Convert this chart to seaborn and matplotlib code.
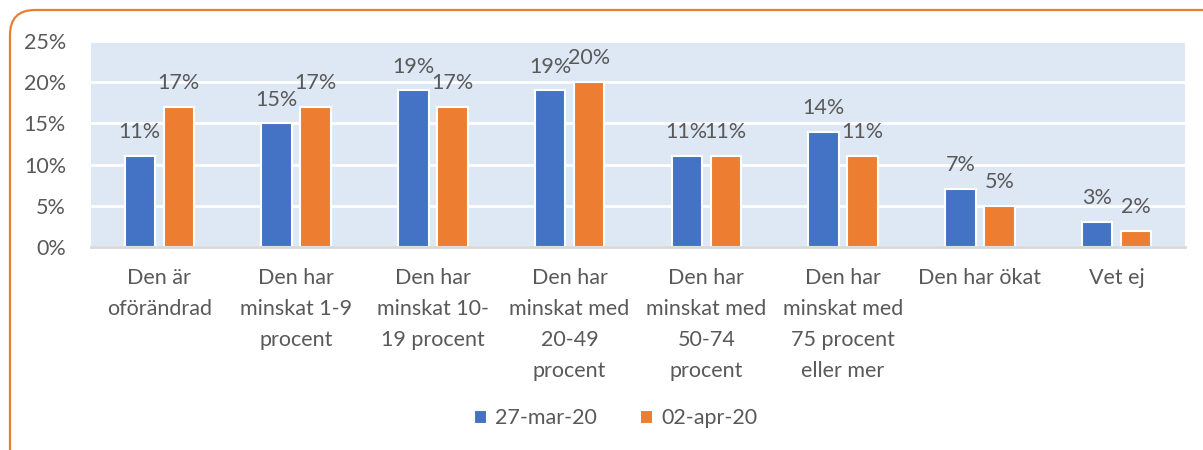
import numpy as np
import pandas as pd
import matplotlib
matplotlib.use("Agg")
import matplotlib.pyplot as plt
import seaborn as sns
from matplotlib.patches import FancyBboxPatch
from matplotlib.ticker import FuncFormatter

categories = [
    "Den är\noförändrad",
    "Den har\nminskat 1-9\nprocent",
    "Den har\nminskat 10-\n19 procent",
    "Den har\nminskat med\n20-49\nprocent",
    "Den har\nminskat med\n50-74\nprocent",
    "Den har\nminskat med\n75 procent\neller mer",
    "Den har ökat",
    "Vet ej",
]
series_names = ["27-mar-20", "02-apr-20"]
mar27 = [11, 15, 19, 19, 11, 14, 7, 3]
apr02 = [17, 17, 17, 20, 11, 11, 5, 2]
colors = ["#4472C4", "#ED7D31"]

df = pd.DataFrame({
    "kategori": categories * 2,
    "datum": [series_names[0]] * len(categories) + [series_names[1]] * len(categories),
    "andel": mar27 + apr02,
})

sns.set_style("white")
plt.rcParams["font.family"] = ["Lato", "DejaVu Sans"]
text_color = "#595959"
fs = 15.5

fig = plt.figure(figsize=(12.03, 4.5), dpi=100)
ax = fig.add_axes([0.0756, 0.451, 0.9094, 0.458])

sns.barplot(
    data=df, x="kategori", y="andel", hue="datum",
    palette=colors, saturation=1, width=0.57, gap=0.22,
    edgecolor="white", linewidth=1.5, ax=ax,
)

for cont in ax.containers:
    ax.bar_label(cont, labels=[f"{v:.0f}%" for v in cont.datavalues],
                 padding=10, fontsize=fs, color=text_color)

ax.set_facecolor("#DEE8F5")
ax.set_ylim(0, 25)
ax.set_yticks(range(0, 26, 5))
ax.yaxis.set_major_formatter(FuncFormatter(lambda v, p: f"{v:.0f}%"))
ax.grid(axis="y", color="white", linewidth=2)
ax.set_axisbelow(True)
for side in ["left", "right", "top"]:
    ax.spines[side].set_visible(False)
ax.spines["bottom"].set_color("#D9D9D9")
ax.spines["bottom"].set_linewidth(2)
ax.tick_params(axis="both", length=0, labelsize=fs, labelcolor=text_color)
ax.tick_params(axis="y", pad=18)
ax.tick_params(axis="x", pad=15)
for lbl in ax.get_xticklabels():
    lbl.set_linespacing(1.68)
ax.set_xlabel("")
ax.set_ylabel("")

handles, labels = ax.get_legend_handles_labels()
ax.legend_.remove()
fig.legend(handles, labels, loc="center", bbox_to_anchor=(0.512, 0.07), ncol=2,
           frameon=False, fontsize=fs, labelcolor=text_color,
           handlelength=0.6, handleheight=0.6, handletextpad=0.4, columnspacing=2.0)

border = FancyBboxPatch((10, -30), 1240, 470, boxstyle="round,pad=0,rounding_size=25",
                        transform=None, facecolor="none", edgecolor="#ED7D31",
                        linewidth=1.6, zorder=10)
fig.patches.append(border)

fig.savefig("out.png", dpi=100)
